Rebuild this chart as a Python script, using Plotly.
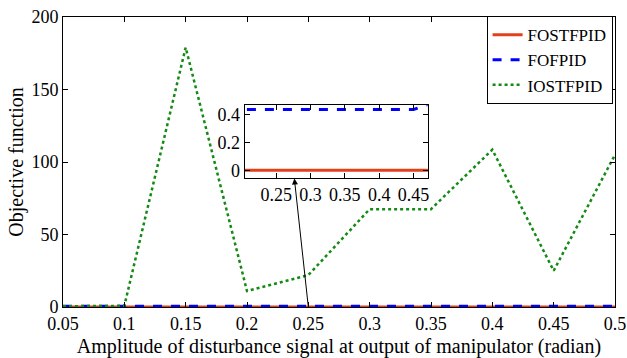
import plotly.graph_objects as go

# Disturbance amplitudes (radian) and objective-function values per controller
amplitude = [0.05, 0.10, 0.15, 0.20, 0.25, 0.30, 0.35, 0.40, 0.45, 0.50]
fostfpid = [0.0, 0.0, 0.0, 0.0, 0.0, 0.0, 0.0, 0.0, 0.0, 0.0]
fofpid = [0.436, 0.436, 0.436, 0.436, 0.436, 0.436, 0.436, 0.436, 0.436, 0.52]
iostfpid = [0.5, 0.8, 179.0, 11.0, 22.0, 67.5, 67.5, 108.5, 25.0, 105.0]

x_ticks = [0.05, 0.1, 0.15, 0.2, 0.25, 0.3, 0.35, 0.4, 0.45, 0.5]
x_ticktext = ["0.05", "0.1", "0.15", "0.2", "0.25", "0.3", "0.35", "0.4", "0.45", "0.5"]
y_ticks = [0, 50, 100, 150, 200]
inset_x_ticks = [0.25, 0.3, 0.35, 0.4, 0.45]
inset_y_ticks = [0, 0.2, 0.4]

RED = "#e2401c"
BLUE = "#0000ff"
GREEN = "#138a13"
FONT = "Liberation Serif"

fig = go.Figure()

# Main axes
fig.add_trace(go.Scatter(x=amplitude, y=fostfpid, name="FOSTFPID", mode="lines",
                         line=dict(color=RED, width=3)))
fig.add_trace(go.Scatter(x=amplitude, y=fofpid, name="FOFPID", mode="lines",
                         line=dict(color=BLUE, width=3, dash="dash")))
fig.add_trace(go.Scatter(x=amplitude, y=iostfpid, name="IOSTFPID", mode="lines",
                         line=dict(color=GREEN, width=2.5, dash="dot")))

# Zoomed inset near zero
fig.add_trace(go.Scatter(x=amplitude, y=fostfpid, mode="lines", showlegend=False,
                         line=dict(color=RED, width=3), xaxis="x2", yaxis="y2"))
fig.add_trace(go.Scatter(x=amplitude, y=fofpid, mode="lines", showlegend=False,
                         line=dict(color=BLUE, width=3, dash="dash"), xaxis="x2", yaxis="y2"))

axis_common = dict(showline=True, linecolor="black", linewidth=1, mirror="ticks",
                   ticks="inside", ticklen=5, tickcolor="black", showgrid=False,
                   zeroline=False, tickfont=dict(family=FONT, size=18, color="black"))

fig.update_layout(
    width=627, height=358,
    margin=dict(l=63, r=12, t=17, b=51, autoexpand=False),
    paper_bgcolor="white", plot_bgcolor="white",
    font=dict(family=FONT, size=18, color="black"),
    xaxis=dict(range=[0.05, 0.5], tickvals=x_ticks, ticktext=x_ticktext,
               title=dict(text="Amplitude of disturbance signal at output of manipulator (radian)",
                          font=dict(family=FONT, size=20), standoff=7),
               **axis_common),
    yaxis=dict(range=[0, 200], tickvals=y_ticks,
               title=dict(text="Objective function", font=dict(family=FONT, size=20), standoff=2),
               **axis_common),
    xaxis2=dict(domain=[0.329, 0.661], anchor="y2", range=[0.204, 0.471],
                tickvals=inset_x_ticks, ticktext=["0.25", "0.3", "0.35", "0.4", "0.45"],
                **axis_common),
    yaxis2=dict(domain=[0.445, 0.6955], anchor="x2", range=[-0.055, 0.466],
                tickvals=inset_y_ticks, ticktext=["0", "0.2", "0.4"],
                **axis_common),
    legend=dict(xref="container", yref="container", x=0.977, y=0.955,
                xanchor="right", yanchor="top",
                bordercolor="black", borderwidth=1, bgcolor="white",
                font=dict(family=FONT, size=17), tracegroupgap=0,
                itemwidth=30),
    showlegend=True,
)

# Arrow from the zero region of the main axes to the inset
fig.add_annotation(x=0.2386, y=88.6, ax=0.25, ay=0, xref="x", yref="y",
                   axref="x", ayref="y", showarrow=True, arrowhead=2,
                   arrowsize=1.2, arrowwidth=1, arrowcolor="black", text="")

fig.write_html("out.html")
